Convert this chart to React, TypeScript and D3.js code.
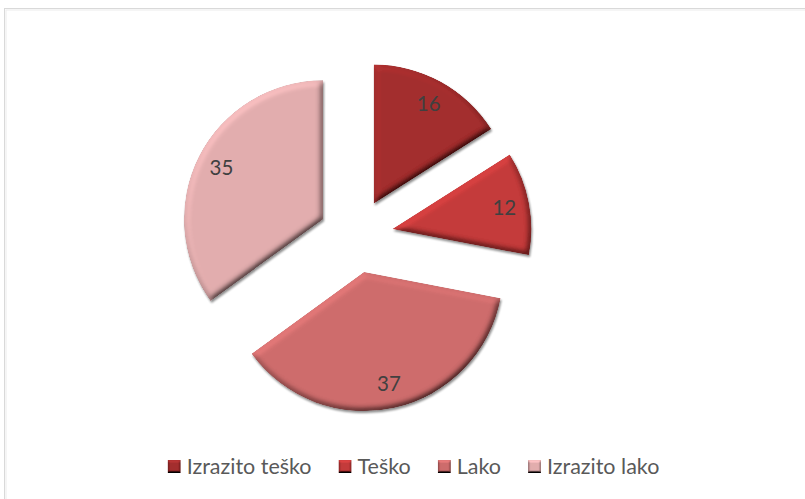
import React from "react";
import * as d3 from "d3";

const categories = ["Izrazito teško", "Teško", "Lako", "Izrazito lako"];
const values = [16, 12, 37, 35];
const colors = ["#a32d2d", "#c43a3a", "#ce6c6c", "#e2adae"];

const W = 805;
const H = 499;
const CX = 356;
const CY = 236;
const R = 139;
const EXPLODE = 37;
const FONT = "Lato, 'Open Sans', sans-serif";

function measure(text: string, size: number): number {
  const c = document.createElement("canvas").getContext("2d");
  if (!c) return text.length * size * 0.48;
  c.font = `${size}px Lato`;
  return c.measureText(text).width;
}

export default function App() {
  const pie = d3.pie<number>().sort(null).value((d) => d)(values);
  const arc = d3.arc<d3.PieArcDatum<number>>().innerRadius(0).outerRadius(R);

  const legendFs = 21.5;
  const marker = 13;
  const gapMarker = 6;
  const gapItem = 27;
  const widths = categories.map((c) => marker + gapMarker + measure(c, legendFs));
  const total = widths.reduce((a, b) => a + b, 0) + gapItem * (categories.length - 1);
  let lx = 413.5 - total / 2;
  const legendX = widths.map((w) => {
    const x = lx;
    lx += w + gapItem;
    return x;
  });
  const legendY = 474;

  return (
    <div style={{ position: "absolute", left: 0, top: 0 }}>
      <svg width={W} height={H} style={{ display: "block" }}>
        <defs>
          <filter id="bevel" x="-10%" y="-10%" width="120%" height="120%">
            <feGaussianBlur in="SourceAlpha" stdDeviation="3" result="blur" />
            <feDiffuseLighting in="blur" surfaceScale="4.5" diffuseConstant="1" lightingColor="#ffffff" result="light">
              <feDistantLight azimuth="235" elevation="55" />
            </feDiffuseLighting>
            <feComposite in="SourceGraphic" in2="light" operator="arithmetic" k1="1.22" k2="0" k3="0" k4="0" result="lit" />
            <feComposite in="lit" in2="SourceAlpha" operator="in" result="litIn" />
            <feGaussianBlur in="SourceAlpha" stdDeviation="1.2" result="sblur" />
            <feOffset in="sblur" dx="0.8" dy="1.5" result="soff" />
            <feComponentTransfer in="soff" result="shadow">
              <feFuncA type="linear" slope="0.45" />
            </feComponentTransfer>
            <feMerge>
              <feMergeNode in="shadow" />
              <feMergeNode in="litIn" />
            </feMerge>
          </filter>
          <filter id="bevelSmall" x="-20%" y="-20%" width="140%" height="140%">
            <feGaussianBlur in="SourceAlpha" stdDeviation="1.2" result="blur" />
            <feDiffuseLighting in="blur" surfaceScale="3" diffuseConstant="1" lightingColor="#ffffff" result="light">
              <feDistantLight azimuth="270" elevation="50" />
            </feDiffuseLighting>
            <feComposite in="SourceGraphic" in2="light" operator="arithmetic" k1="1.3" k2="0" k3="0" k4="0" result="lit" />
            <feComposite in="lit" in2="SourceAlpha" operator="in" />
          </filter>
        </defs>
        <rect x={0} y={0} width={W} height={H} fill="#ffffff" />
        <rect x={4.5} y={8.5} width={W + 20} height={H + 20} fill="none" stroke="#d9d9d9" strokeWidth={1} />
        <rect x={6} y={10} width={W + 20} height={H + 20} fill="none" stroke="#ececec" strokeWidth={1} />

        {pie.map((p, i) => {
          const mid = (p.startAngle + p.endAngle) / 2;
          const ox = Math.sin(mid) * EXPLODE;
          const oy = -Math.cos(mid) * EXPLODE;
          const lr = R * 0.82;
          return (
            <g key={i} transform={`translate(${CX + ox},${CY + oy})`}>
              <path d={arc(p) || ""} fill={colors[i]} filter="url(#bevel)" />
              <text
                x={Math.sin(mid) * lr}
                y={-Math.cos(mid) * lr}
                dy="0.36em"
                textAnchor="middle"
                fontFamily={FONT}
                fontSize={20.5}
                fill="#404040"
              >
                {values[i]}
              </text>
            </g>
          );
        })}

        {categories.map((c, i) => (
          <g key={c}>
            <rect
              x={legendX[i]}
              y={legendY - 14}
              width={marker}
              height={marker}
              fill={colors[i]}
              filter="url(#bevelSmall)"
            />
            <text
              x={legendX[i] + marker + gapMarker}
              y={legendY}
              fontFamily={FONT}
              fontSize={legendFs}
              fill="#595959"
            >
              {c}
            </text>
          </g>
        ))}
      </svg>
    </div>
  );
}
